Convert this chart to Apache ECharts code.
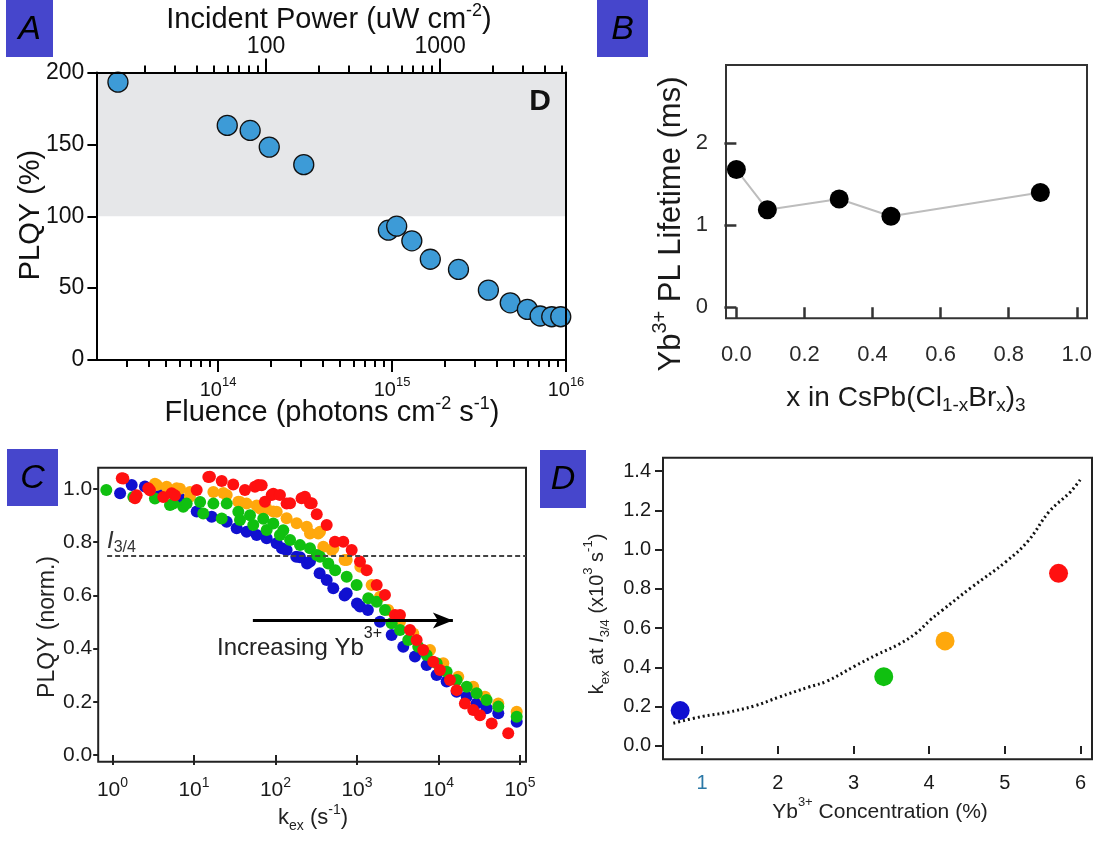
<!DOCTYPE html>
<html><head><meta charset="utf-8">
<script src="https://cdn.jsdelivr.net/npm/echarts@6/dist/echarts.min.js"></script>
<style>html,body{margin:0;padding:0;background:#fff}#c{width:1102px;height:841px}</style>
</head><body><div id="c"></div>
<script>
// ---------- Panel A ----------
const fluence = [2.66e13,1.13e14,1.53e14,1.97e14,3.11e14,9.53e14,1.064e15,1.30e15,1.66e15,2.41e15,3.58e15,4.78e15,6.0e15,7.1e15,8.28e15,9.33e15];
const plqyA = [193.3,163.2,159.7,148.1,135.9,90.3,93.1,82.9,70.1,63.0,48.6,39.8,35.2,30.6,30.1,30.1];
const fluenceMajorTicks = [1e14,1e15,1e16];
const fluenceMinorTicks = [3e13,4e13,5e13,6e13,7e13,8e13,9e13,2e14,3e14,4e14,5e14,6e14,7e14,8e14,9e14,2e15,3e15,4e15,5e15,6e15,7e15,8e15,9e15];
const powerMajorTicks = [100,1000];
const powerMinorTicks = [20,30,40,50,60,70,80,90,200,300,400,500,600,700,800,900,2000,3000,4000,5000];
const plqyATicks = [0,50,100,150,200];
const bandRange = [100,200];
// ---------- Panel B ----------
const brFraction = [0.0,0.091,0.302,0.454,0.893];
const lifetime = [1.68,1.19,1.32,1.11,1.40];
const bXTicks = [0,0.2,0.4,0.6,0.8,1.0];
const bYTicks = [0,1,2];
// ---------- Panel C ----------
const cBlue = [[1.24,0.984],[1.72,1.015],[2.50,1.009],[3.83,0.977],[6.73,0.965],[10.8,0.915],[16.5,0.896],[25.2,0.877],[33.4,0.852],[44.3,0.839],[58.8,0.827],[78,0.815],[103.5,0.796],[120,0.777],[137,0.771],[180,0.745],[200,0.743],[244,0.720],[265,0.727],[348,0.683],[425,0.658],[512,0.627],[705,0.600],[748,0.608],[1000,0.570],[1089,0.558],[1361,0.545],[1915,0.501],[2665,0.451],[3700,0.407],[5150,0.370],[7160,0.338],[9500,0.301],[12600,0.276],[16700,0.238],[22200,0.219],[29400,0.194],[39000,0.176],[54200,0.157],[91200,0.125]];
const cOrange = [[3.32,1.020],[3.49,1.015],[4.62,1.008],[6.13,1.003],[6.73,1.001],[8.93,0.989],[8.93,0.971],[17.3,0.989],[22.9,0.985],[25.2,0.977],[35.0,0.952],[36.7,0.951],[44.3,0.945],[58.8,0.938],[64.5,0.927],[78,0.926],[94,0.915],[103.5,0.914],[137,0.890],[182,0.871],[242,0.858],[265,0.833],[335,0.833],[352,0.839],[386,0.783],[490,0.771],[512,0.777],[705,0.733],[748,0.733],[1100,0.708],[1514,0.639],[1915,0.595],[2422,0.545],[3370,0.501],[4910,0.457],[7870,0.395],[11460,0.345],[17500,0.294],[26700,0.257],[37200,0.219],[54200,0.194],[91200,0.163]];
const cGreen = [[0.84,0.996],[1.80,0.970],[3.32,0.964],[5.08,0.940],[5.57,0.945],[7.39,0.933],[8.13,0.945],[11.9,0.951],[13.0,0.908],[17.3,0.945],[21.9,0.889],[25.2,0.945],[35.0,0.914],[36.7,0.883],[48.7,0.901],[53.4,0.865],[70.8,0.888],[78,0.846],[94,0.870],[113.5,0.827],[124.7,0.845],[151,0.808],[200,0.789],[265,0.777],[321,0.752],[352,0.745],[445,0.720],[540,0.695],[748,0.670],[991,0.639],[1377,0.589],[1745,0.576],[2206,0.545],[2665,0.495],[3370,0.470],[4260,0.432],[5650,0.407],[7160,0.376],[9500,0.345],[12600,0.313],[16700,0.282],[22200,0.257],[29400,0.232],[39000,0.207],[54200,0.182],[91200,0.144]];
const cRed = [[1.30,1.040],[1.36,1.039],[1.89,0.965],[1.98,0.976],[2.75,1.003],[2.88,0.995],[4.20,0.970],[5.32,0.984],[5.84,0.976],[10.8,0.996],[15.0,1.045],[15.7,1.046],[21.9,1.030],[30.3,1.017],[42.2,0.996],[56.0,1.008],[61.5,1.015],[67.7,1.014],[74.3,0.952],[89.8,0.977],[94,0.982],[113.5,0.977],[137,0.945],[151,0.946],[209,0.965],[230,0.971],[265,0.946],[278,0.946],[321,0.905],[425,0.865],[537,0.802],[679,0.802],[861,0.771],[1089,0.727],[1315,0.695],[1745,0.639],[2206,0.602],[2925,0.526],[3370,0.526],[4470,0.470],[5400,0.432],[6500,0.395],[8630,0.351],[10430,0.320],[13840,0.282],[16700,0.244],[21100,0.194],[26700,0.169],[32300,0.150],[45000,0.119],[71800,0.082]];
const cXTicks = [1,10,100,1000,10000,100000];
const cYTicks = [0,0.2,0.4,0.6,0.8,1.0];
const thresholdY = 0.75;
const thresholdStartX = 0.86;
const arrowFrom = [52.8,0.506];
const arrowTo = [15030,0.506];
// ---------- Panel D ----------
const concentration = [0.71,3.40,4.21,5.71];
const kex34 = [0.18,0.353,0.535,0.879];
const fitX = [0.62,1.0,1.32,1.70,2.01,2.41,2.65,3.01,3.31,3.60,3.83,4.01,4.17,4.55,5.02,5.31,5.59,5.87,6.01];
const fitY = [0.116,0.150,0.170,0.205,0.248,0.300,0.330,0.405,0.465,0.518,0.575,0.640,0.690,0.805,0.940,1.045,1.195,1.295,1.363];
const dXTicks = [1,2,3,4,5,6];
const dYTicks = [0,0.2,0.4,0.6,0.8,1.0,1.2,1.4];

const FONT = '"Liberation Sans", Arial, Helvetica, sans-serif';
const BLUE='#1010d0', GREEN='#10c010', ORANGE='#ffa80c', RED='#ff1010';
const dColors = [BLUE, GREEN, ORANGE, RED];

const chart = echarts.init(document.getElementById('c'), null, {renderer:'canvas'});

function logLabelRich(fs, sfs, color){
  return {
    b:{fontSize:fs, lineHeight:fs+8, fontFamily:FONT, color:color},
    s:{fontSize:sfs, lineHeight:sfs, verticalAlign:'top', fontFamily:FONT, color:color}
  };
}
function logFmt(v){ return '{b|10}{s|' + Math.round(Math.log10(v)) + '}'; }

function tickAxis(o){
  return Object.assign({
    splitLine:{show:false},
    axisLine:{show:false},
    axisTick:{show:false},
    axisLabel:{show:false}
  }, o);
}

const axisLineBlack = {show:true, lineStyle:{color:'#000', width:2}};

const xAxis = [
  // 0: A bottom major
  tickAxis({gridIndex:0, type:'log', logBase:10, min:2e13, max:1e16, position:'bottom', z:5,
    axisLine:axisLineBlack,
    axisTick:{show:true, length:12, lineStyle:{color:'#000', width:2}, customValues:fluenceMajorTicks},
    axisLabel:{show:true, customValues:fluenceMajorTicks, margin:16, formatter:logFmt, rich:logLabelRich(20,13,'#111')}}),
  // 1: A bottom minor
  tickAxis({gridIndex:0, type:'log', logBase:10, min:2e13, max:1e16, position:'bottom', z:5,
    axisTick:{show:true, length:7, lineStyle:{color:'#000', width:2}, customValues:fluenceMinorTicks}}),
  // 2: A top major
  tickAxis({gridIndex:0, type:'log', logBase:10, min:10.6, max:5290, position:'top', z:5,
    axisLine:axisLineBlack,
    axisTick:{show:true, length:14, lineStyle:{color:'#000', width:2}, customValues:powerMajorTicks},
    axisLabel:{show:true, customValues:powerMajorTicks, margin:14, fontSize:23, fontFamily:FONT, color:'#111', formatter:v=>String(Math.round(v))}}),
  // 3: A top minor
  tickAxis({gridIndex:0, type:'log', logBase:10, min:10.6, max:5290, position:'top', z:5,
    axisTick:{show:true, length:7, lineStyle:{color:'#000', width:2}, customValues:powerMinorTicks}}),
  // 4: B x
  tickAxis({gridIndex:1, type:'value', min:-0.0305, max:1.03, position:'bottom', offset:4,
    axisTick:{show:true, length:11, lineStyle:{color:'#333', width:2.5}, customValues:bXTicks},
    axisLabel:{show:true, customValues:bXTicks, margin:22, fontSize:22, fontFamily:FONT, color:'#2a2a2a', formatter:v=>v.toFixed(1)}}),
  // 5: C x
  tickAxis({gridIndex:2, type:'log', logBase:10, min:0.668, max:1.186e5, position:'bottom',
    axisTick:{show:true, length:10, lineStyle:{color:'#222', width:2}, customValues:cXTicks},
    axisLabel:{show:true, customValues:cXTicks, margin:14, formatter:logFmt, rich:logLabelRich(21,14,'#1a1a1a')}}),
  // 6: D x
  tickAxis({gridIndex:3, type:'value', min:0.483, max:6.152, position:'bottom',
    axisTick:{show:true, length:8, lineStyle:{color:'#222', width:2}, customValues:dXTicks},
    axisLabel:{show:true, customValues:dXTicks, margin:14, fontSize:20, fontFamily:FONT, color:(v)=> (Number(v)===1 ? '#2b78a6' : '#1a1a1a'), formatter:v=>String(v)}})
];

const yAxis = [
  // 0: A left
  tickAxis({gridIndex:0, type:'value', min:0, max:200, position:'left', z:5,
    axisLine:axisLineBlack,
    axisTick:{show:true, length:9, lineStyle:{color:'#000', width:2}, customValues:plqyATicks},
    axisLabel:{show:true, customValues:plqyATicks, margin:12, fontSize:23, fontFamily:FONT, color:'#111'}}),
  // 1: A right frame
  tickAxis({gridIndex:0, type:'value', min:0, max:200, position:'right', z:5, axisLine:axisLineBlack}),
  // 2: B y
  tickAxis({gridIndex:1, type:'value', min:-0.134, max:2.955, position:'left',
    axisTick:{show:true, length:12, lineStyle:{color:'#333', width:2.5}, customValues:bYTicks},
    axisLabel:{show:true, customValues:bYTicks, margin:18, fontSize:22, fontFamily:FONT, color:'#2a2a2a', formatter:v=>String(v)}}),
  // 3: C y
  tickAxis({gridIndex:2, type:'value', min:-0.025, max:1.08, position:'left',
    axisTick:{show:true, length:5, lineStyle:{color:'#222', width:2}, customValues:cYTicks},
    axisLabel:{show:true, customValues:cYTicks, margin:6, fontSize:21, fontFamily:FONT, color:'#1a1a1a', formatter:v=>v.toFixed(1)}}),
  // 4: D y
  tickAxis({gridIndex:3, type:'value', min:-0.068, max:1.468, position:'left',
    axisTick:{show:true, length:8, lineStyle:{color:'#222', width:2}, customValues:dYTicks},
    axisLabel:{show:true, customValues:dYTicks, margin:12, fontSize:20, fontFamily:FONT, color:'#1a1a1a', formatter:v=>v.toFixed(1)}})
];

const grid = [
  {left:96.4, top:72.5, width:469.6, height:287.5},
  {left:726, top:65, width:361, height:253.3, show:true, borderColor:'#333', borderWidth:2, backgroundColor:'transparent'},
  {left:98.2, top:467.7, width:427.8, height:294, show:true, borderColor:'#222', borderWidth:2, backgroundColor:'transparent'},
  {left:663, top:457.7, width:429, height:301.6, show:true, borderColor:'#222', borderWidth:2, backgroundColor:'transparent'}
];

function cScatter(name, data, color){
  return {name, type:'scatter', xAxisIndex:5, yAxisIndex:3, data:data, symbol:'circle', symbolSize:12,
    itemStyle:{color:color, opacity:1}, silent:true};
}

const series = [
  {name:'PLQY', type:'scatter', xAxisIndex:0, yAxisIndex:0, symbol:'circle', symbolSize:20,
   data: fluence.map((f,i)=>[f, plqyA[i]]),
   itemStyle:{color:'#3d9bd7', borderColor:'#111', borderWidth:1.3, opacity:1},
   markArea:{silent:true, z:-1, itemStyle:{color:'#e6e7e9'}, data:[[{yAxis:bandRange[0]},{yAxis:bandRange[1]}]]}},
  {name:'Lifetime', type:'line', xAxisIndex:4, yAxisIndex:2, symbol:'circle', symbolSize:19,
   data: brFraction.map((x,i)=>[x, lifetime[i]]),
   itemStyle:{color:'#000', opacity:1}, lineStyle:{color:'#bdbdbd', width:2}},
  cScatter('blue', cBlue, BLUE),
  cScatter('orange', cOrange, ORANGE),
  cScatter('green', cGreen, GREEN),
  Object.assign(cScatter('red', cRed, RED), {
    markLine:{silent:true, z:10, label:{show:false}, symbol:['none','none'],
      data:[
        [{coord:[thresholdStartX, thresholdY], lineStyle:{type:[5,3], width:2, color:'#444'}, symbol:'none'},
         {coord:[1.186e5, thresholdY], symbol:'none'}],
        [{coord:arrowFrom, lineStyle:{type:'solid', width:3, color:'#000'}, symbol:'none'},
         {coord:arrowTo, symbol:'arrow', symbolSize:[12,20]}]
      ]}
  }),
  {name:'fit', type:'line', xAxisIndex:6, yAxisIndex:4, smooth:0.4, showSymbol:false, symbol:'none',
   data: fitX.map((x,i)=>[x, fitY[i]]),
   lineStyle:{color:'#111', width:3, type:[2,3]}, silent:true},
  {name:'kex', type:'scatter', xAxisIndex:6, yAxisIndex:4, symbol:'circle', symbolSize:19,
   data: concentration.map((c,i)=>({value:[c, kex34[i]], itemStyle:{color:dColors[i], opacity:1}})), silent:true}
];

function txt(x, y, text, fs, o){
  o = o || {};
  return {type:'text', x:x, y:y, rotation:o.rot||0, z:100, silent:true,
    style:{text:text, fontFamily:FONT, fontSize:fs, fontWeight:o.weight||'normal', fontStyle:o.italic?'italic':'normal',
      fill:o.color||'#111', align:o.align||'center', verticalAlign:'middle', rich:o.rich}};
}
function richSS(fs, sfs, main, color){
  color = color || '#111';
  return {
    m:{fontSize:fs, lineHeight:main||fs+8, fontFamily:FONT, fill:color},
    s:{fontSize:sfs, lineHeight:sfs, verticalAlign:'top', fontFamily:FONT, fill:color},
    d:{fontSize:sfs, lineHeight:sfs, verticalAlign:'bottom', fontFamily:FONT, fill:color},
    i:{fontSize:fs, lineHeight:main||fs+8, fontFamily:FONT, fontStyle:'italic', fill:color}
  };
}
function box(x,y,w,h,letter){
  return [
    {type:'rect', shape:{x:x,y:y,width:w,height:h}, style:{fill:'#4646cc'}, z:90, silent:true},
    {type:'text', x:x+w/2, y:y+h/2+1, z:100, silent:true,
     style:{text:letter, fontFamily:'"Liberation Sans", Arial, sans-serif', fontStyle:'italic', fontSize:34, fill:'#000', align:'center', verticalAlign:'middle'}}
  ];
}

const graphic = [].concat(
  box(6,0,47,57,'A'), box(597,0,51,57,'B'), box(7,449,51,57,'C'), box(540,450,46,58,'D'),
  [
    txt(31,215,'PLQY (%)',29,{rot:Math.PI/2}),
    txt(329,20,'{m|Incident Power (uW cm}{s|-2}{m|)}',29,{rich:richSS(29,18,36)}),
    txt(332,413,'{m|Fluence (photons cm}{s|-2}{m| s}{s|-1}{m|)}',29,{rich:richSS(29,18,36)}),
    txt(540,102,'D',30,{weight:'bold'}),
    txt(671,224,'{m|Yb}{s|3+}{m| PL Lifetime (ms)}',31,{rot:Math.PI/2, rich:richSS(31,20,42,'#1a1a1a')}),
    txt(906,398,'{m|x in CsPb(Cl}{d|1-x}{m|Br}{d|x}{m|)}{d|3}',28,{rich:richSS(28,19,34,'#1a1a1a')}),
    txt(48,627,'PLQY (norm.)',23,{rot:Math.PI/2, color:'#222'}),
    txt(313,818,'{m|k}{d|ex}{m| (s}{s|-1}{m|)}',22,{rich:richSS(22,14,30,'#222')}),
    txt(107,541,'{i|I}{d|3/4}',24,{align:'left', rich:richSS(24,16,30,'#333')}),
    txt(217,648,'{m|Increasing Yb}{s|3+}',24,{align:'left', rich:richSS(24,16,44,'#222')}),
    txt(597,614,'{m|k}{d|ex}{m| at }{i|I}{d|3/4}{m| (x10}{s|3}{m| s}{s|-1}{m|)}',20,{rot:Math.PI/2, rich:richSS(20,13,30,'#222')}),
    txt(880,812,'{m|Yb}{s|3+}{m| Concentration (%)}',21,{rich:richSS(21,13,32,'#222')})
  ]
);

chart.setOption({
  animation:false,
  backgroundColor:'#fff',
  grid:grid, xAxis:xAxis, yAxis:yAxis, series:series, graphic:graphic
});
</script></body></html>
